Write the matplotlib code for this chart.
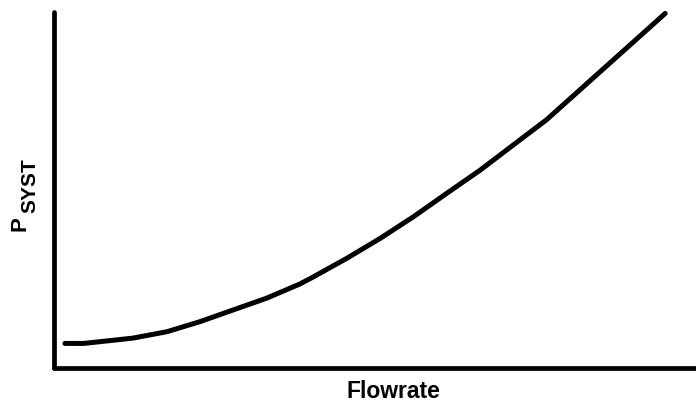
import numpy as np
from matplotlib import pyplot as plt

# system pressure vs flowrate (arbitrary units 0-10)
flowrate = [0.17, 0.46, 0.72, 1.23, 1.76, 2.27, 2.79, 3.31, 3.83, 4.04, 4.56,
            5.08, 5.60, 6.12, 6.64, 7.15, 7.67, 8.19, 8.71, 9.23, 9.52]
p_syst = [0.69, 0.69, 0.74, 0.84, 1.02, 1.30, 1.63, 1.96, 2.36, 2.56, 3.08,
          3.64, 4.25, 4.91, 5.56, 6.26, 6.97, 7.81, 8.65, 9.49, 9.96]

plt.rcParams['font.family'] = ['Liberation Sans', 'DejaVu Sans']

fig = plt.figure(figsize=(6.96, 4.12), dpi=100)
ax = fig.add_axes([54 / 696, 44 / 412, 642 / 696, 356 / 412])

ax.plot(flowrate, p_syst, color='black', lw=3.6, solid_capstyle='round',
        solid_joinstyle='round', clip_on=False)
ax.set_xlim(0, 10)
ax.set_ylim(0, 10)

for side in ['top', 'right']:
    ax.spines[side].set_visible(False)
for side in ['left', 'bottom']:
    ax.spines[side].set_linewidth(3.4)
    ax.spines[side].set_capstyle('round')
ax.set_xticks([])
ax.set_yticks([])

fig.text(393 / 696, 1 - 391 / 412, 'Flowrate', ha='center', va='center',
         fontsize=16.5, fontweight='bold')
fig.text(20 / 696, 1 - 224 / 412, 'P', ha='center', va='center',
         fontsize=16, fontweight='bold', rotation=90)
fig.text(30 / 696, 1 - 186 / 412, 'SYST', ha='center', va='center',
         fontsize=15, fontweight='bold', rotation=90)

fig.savefig('out.png', dpi=100)
